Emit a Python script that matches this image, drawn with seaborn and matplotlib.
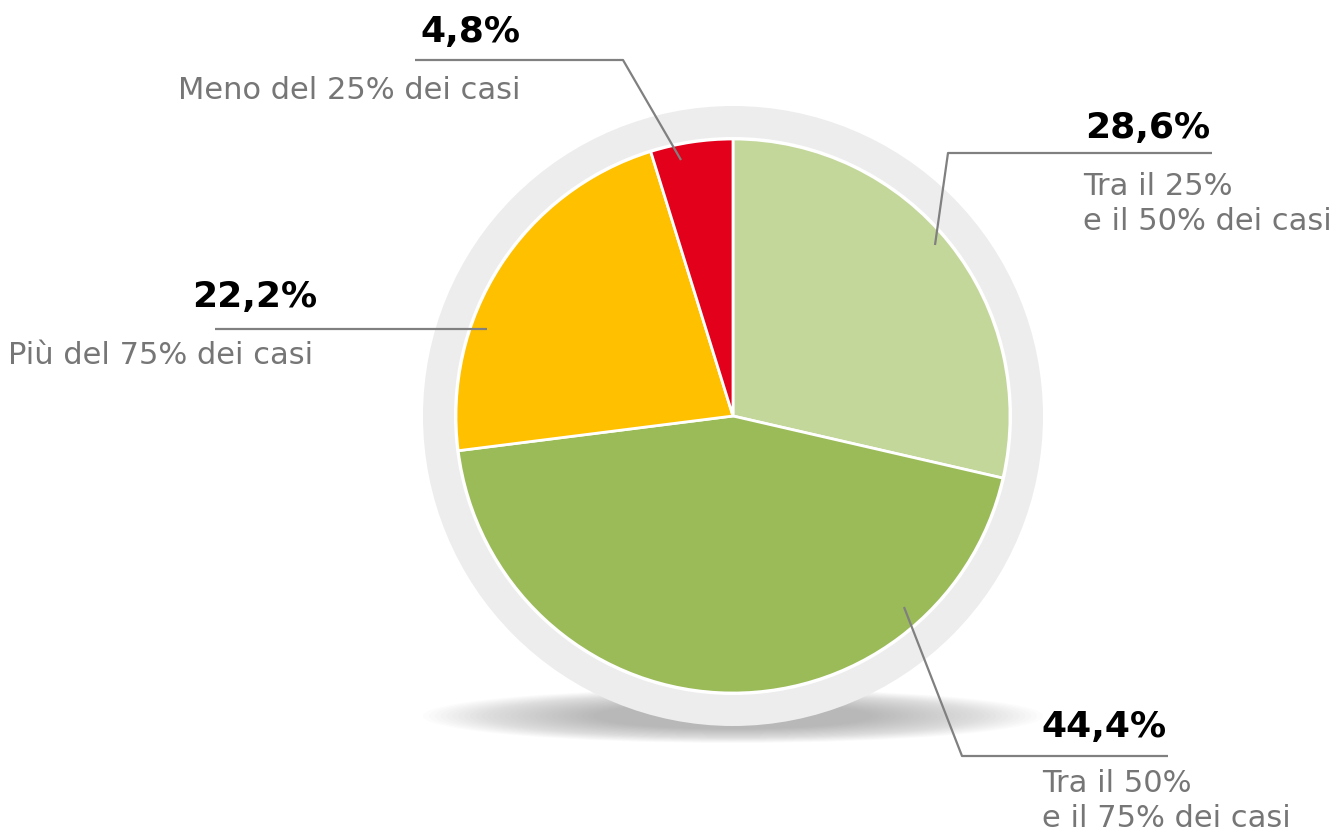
import matplotlib
matplotlib.use("Agg")
import matplotlib.pyplot as plt
import seaborn as sns
import numpy as np
from matplotlib.patches import Circle, Ellipse

# dati
values = [28.6, 44.4, 22.2, 4.8]
pct_labels = ["28,6%", "44,4%", "22,2%", "4,8%"]
descr = ["Tra il 25%\ne il 50% dei casi", "Tra il 50%\ne il 75% dei casi",
         "Più del 75% dei casi", "Meno del 25% dei casi"]
colors = ["#C4D79B", "#9BBB59", "#FFC000", "#E2001A"]

sns.set_style("white")
plt.rcParams['font.family'] = ['DejaVu Sans']

W, H = 1338, 838
fig = plt.figure(figsize=(W / 100, H / 100), dpi=100)
ax = fig.add_axes([0, 0, 1, 1])

def Y(y):
    return H - y

cx, cy = 733, 416

# ombra sotto al cerchio
for i in range(30):
    f = i / 29
    ax.add_patch(Ellipse((cx, Y(716)), 620 - 340 * f, 54 - 28 * f,
                         color="#8a8a8a", alpha=0.024, lw=0, zorder=1))

# anello grigio
ax.add_patch(Circle((cx, Y(cy)), 310, color="#EDEDED", lw=0, zorder=2))
ax.add_patch(Circle((cx, Y(cy)), 279, color="white", lw=0, zorder=2))

wedges, _ = ax.pie(values, colors=colors, startangle=90, counterclock=False,
                   center=(cx, Y(cy)), radius=277, frame=True,
                   wedgeprops=dict(edgecolor="white", linewidth=2))
for w in wedges:
    w.set_zorder(3)
ax.set_xlim(0, W)
ax.set_ylim(0, H)
ax.set_aspect("equal")
ax.axis("off")

# linee guida (pixel dall'alto)
leaders = [
    [(935, 245), (948, 153), (1212, 153)],
    [(904, 607), (962, 756), (1168, 756)],
    [(487, 329), (215, 329)],
    [(681, 160), (623, 60), (415, 60)],
]
for pts in leaders:
    xs = [p[0] for p in pts]
    ys = [Y(p[1]) for p in pts]
    ax.plot(xs, ys, color="#808080", lw=1.6, zorder=5, solid_capstyle="butt")

fs_b = 26
fs = 22
txt_col = "#767676"
# percentuali
ax.text(1210, Y(128), pct_labels[0], ha="right", va="center", fontsize=fs_b, fontweight="bold", color="black")
ax.text(1167, Y(727), pct_labels[1], ha="right", va="center", fontsize=fs_b, fontweight="bold", color="black")
ax.text(317, Y(297), pct_labels[2], ha="right", va="center", fontsize=fs_b, fontweight="bold", color="black")
ax.text(520, Y(32), pct_labels[3], ha="right", va="center", fontsize=fs_b, fontweight="bold", color="black")

# descrizioni
ax.text(1083, Y(172), descr[0], ha="left", va="top", fontsize=fs, color=txt_col, linespacing=1.25)
ax.text(1042, Y(769), descr[1], ha="left", va="top", fontsize=fs, color=txt_col, linespacing=1.25)
ax.text(8, Y(355), descr[2], ha="left", va="center", fontsize=fs, color=txt_col)
ax.text(520, Y(90), descr[3], ha="right", va="center", fontsize=fs, color=txt_col)

fig.savefig("out.png", dpi=100, facecolor="white")
